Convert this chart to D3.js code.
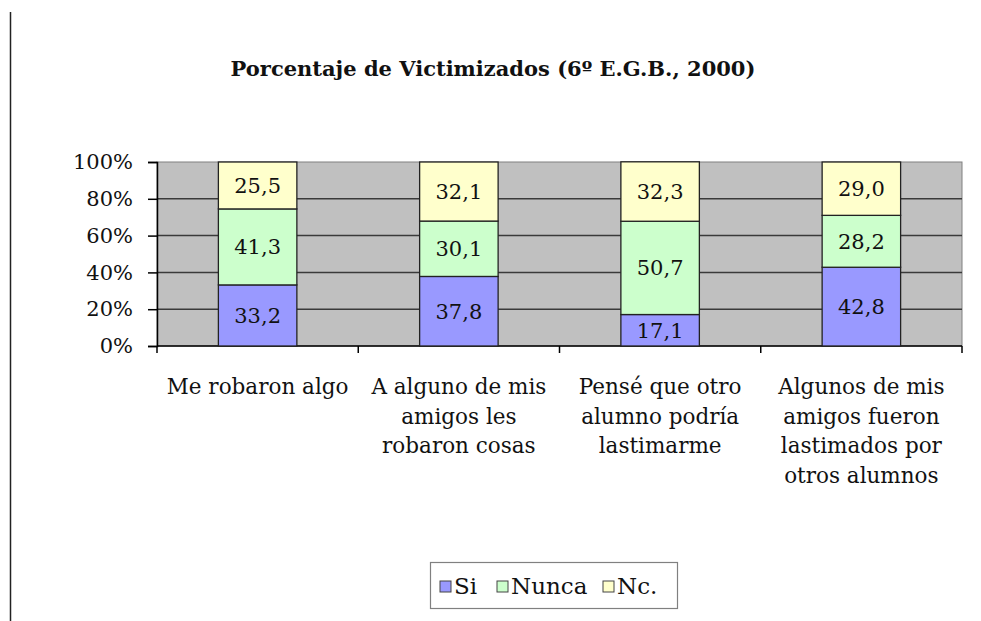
<!DOCTYPE html>
<html>
<head>
<meta charset="utf-8">
<script src="https://cdn.jsdelivr.net/npm/d3@7"></script>
<style>
  html, body { margin: 0; padding: 0; background: #fff; }
  svg { display: block; }
</style>
</head>
<body>
<div id="chart"></div>
<script>
// data
const categories = [
  "Me robaron algo",
  "A alguno de mis\namigos les\nrobaron cosas",
  "Pensé que otro\nalumno podría\nlastimarme",
  "Algunos de mis\namigos fueron\nlastimados por\notros alumnos"
]
const seriesNames = ["Si", "Nunca", "Nc."]
const si    = [33.2, 37.8, 17.1, 42.8]
const nunca = [41.3, 30.1, 50.7, 28.2]
const nc    = [25.5, 32.1, 32.3, 29.0]
const yTicks = [0, 20, 40, 60, 80, 100]
const colors = ["#9999ff", "#ccffcc", "#ffffcc"]

const width = 981, height = 621
const font = "'DejaVu Serif', serif"

const svg = d3.select("#chart").append("svg")
  .attr("width", width)
  .attr("height", height)
  .style("font-family", font)

// page edge line on the left
svg.append("line")
  .attr("x1", 10.5).attr("x2", 10.5)
  .attr("y1", 12).attr("y2", height)
  .attr("stroke", "#222").attr("stroke-width", 1.5)

svg.append("text")
  .attr("x", 493).attr("y", 76)
  .attr("text-anchor", "middle")
  .attr("font-size", 21)
  .attr("font-weight", "bold")
  .attr("fill", "#111")
  .text("Porcentaje de Victimizados (6º E.G.B., 2000)")

const x = d3.scaleBand()
  .domain(categories)
  .range([157, 962])
  .paddingInner(0.61)
  .paddingOuter(0.305)

const y = d3.scaleLinear().domain([0, 100]).range([346, 162])

// plot background
svg.append("rect")
  .attr("x", x.range()[0]).attr("y", y(100))
  .attr("width", x.range()[1] - x.range()[0])
  .attr("height", y(0) - y(100))
  .attr("fill", "#c0c0c0")
  .attr("stroke", "#808080")

// gridlines
svg.append("g")
  .selectAll("line")
  .data(yTicks.filter(d => d > 0 && d < 100))
  .join("line")
  .attr("x1", x.range()[0]).attr("x2", x.range()[1])
  .attr("y1", d => y(d)).attr("y2", d => y(d))
  .attr("stroke", "#3a3a3a").attr("stroke-width", 1.5)

// y axis
const yAxis = svg.append("g")
  .attr("transform", `translate(${x.range()[0]},0)`)
  .call(d3.axisLeft(y).tickValues(yTicks).tickFormat(d => d + "%").tickSize(9).tickPadding(15))
yAxis.select(".domain").attr("stroke", "#000").attr("stroke-width", 1.5)
yAxis.selectAll(".tick line").attr("stroke", "#000").attr("stroke-width", 1.5)
yAxis.selectAll(".tick text")
  .attr("font-family", font).attr("font-size", 21).attr("fill", "#111")

// x axis baseline + category ticks
const step = x.step()
const bounds = d3.range(categories.length + 1).map(i => x.range()[0] + i * step)
svg.append("line")
  .attr("x1", x.range()[0]).attr("x2", x.range()[1])
  .attr("y1", y(0)).attr("y2", y(0))
  .attr("stroke", "#000").attr("stroke-width", 1.5)
svg.append("g").selectAll("line")
  .data(bounds).join("line")
  .attr("x1", d => d).attr("x2", d => d)
  .attr("y1", y(0)).attr("y2", y(0) + 7)
  .attr("stroke", "#000").attr("stroke-width", 1.5)

// stacked bars
const rows = categories.map((c, i) => ({ cat: c, "Si": si[i], "Nunca": nunca[i], "Nc.": nc[i] }))
const stack = d3.stack().keys(seriesNames)(rows)
const fmt = v => d3.format(".1f")(v).replace(".", ",")

const layer = svg.append("g").selectAll("g")
  .data(stack).join("g")
  .attr("fill", (d, i) => colors[i])

layer.selectAll("rect")
  .data(d => d)
  .join("rect")
  .attr("x", d => x(d.data.cat))
  .attr("width", x.bandwidth())
  .attr("y", d => y(d[1]))
  .attr("height", d => y(d[0]) - y(d[1]))
  .attr("stroke", "#222").attr("stroke-width", 1.3)

layer.selectAll("text")
  .data(d => d.map(p => ({ p, key: d.key })))
  .join("text")
  .attr("x", d => x(d.p.data.cat) + x.bandwidth() / 2)
  .attr("y", d => (y(d.p[0]) + y(d.p[1])) / 2)
  .attr("dy", "0.36em")
  .attr("text-anchor", "middle")
  .attr("font-size", 21)
  .attr("fill", "#111")
  .text(d => fmt(d.p.data[d.key]))

// category labels
svg.append("g").selectAll("text")
  .data(categories).join("text")
  .attr("x", d => x(d) + x.bandwidth() / 2)
  .attr("y", 394)
  .attr("text-anchor", "middle")
  .attr("font-size", 21.5)
  .attr("fill", "#111")
  .selectAll("tspan")
  .data(d => d.split("\n"))
  .join("tspan")
  .attr("x", function () { return this.parentNode.getAttribute("x") })
  .attr("dy", (d, i) => i ? 29.5 : 0)
  .text(d => d)

// legend
const legend = svg.append("g")
legend.append("rect")
  .attr("x", 430.5).attr("y", 562.5)
  .attr("width", 247).attr("height", 46)
  .attr("fill", "#fff").attr("stroke", "#808080").attr("stroke-width", 1.2)

const legX = [440, 497, 603]
const item = legend.selectAll("g.item")
  .data(seriesNames).join("g")
  .attr("class", "item")
  .attr("transform", (d, i) => `translate(${legX[i]},586)`)
item.append("rect")
  .attr("x", 0).attr("y", -5)
  .attr("width", 11).attr("height", 11)
  .attr("fill", (d, i) => colors[i])
  .attr("stroke", "#444").attr("stroke-width", 1)
item.append("text")
  .attr("x", 14).attr("dy", "0.36em")
  .attr("font-size", 23)
  .attr("fill", "#111")
  .text(d => d)
</script>
</body>
</html>
